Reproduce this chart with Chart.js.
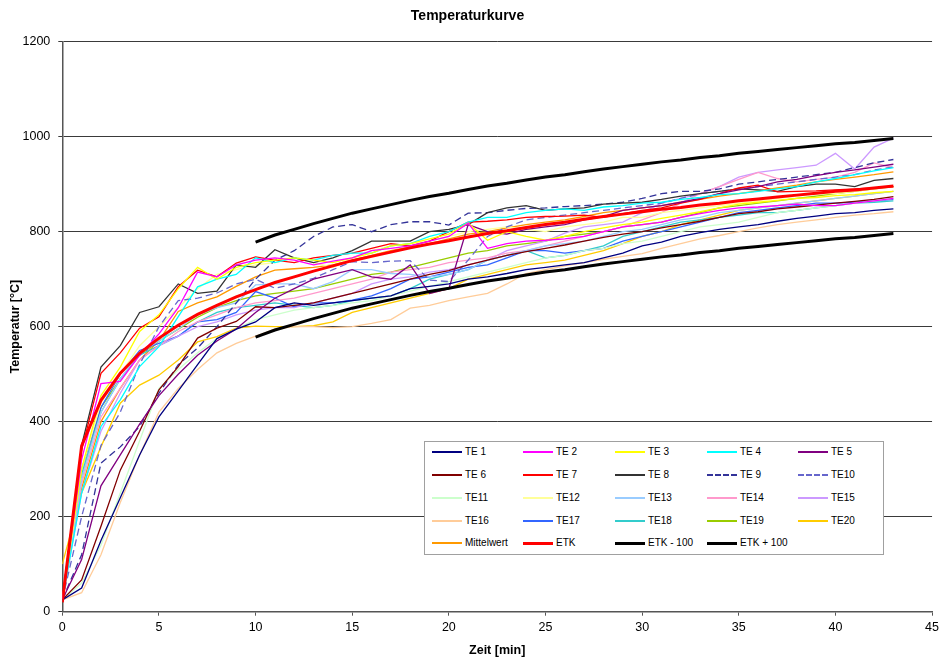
<!DOCTYPE html>
<html>
<head>
<meta charset="utf-8">
<script src="https://cdn.jsdelivr.net/npm/chart.js@4.4.1/dist/chart.umd.min.js"></script>
<style>
  html, body { margin: 0; padding: 0; background: #fff; }
  #wrap { position: relative; width: 943px; height: 660px; }
  #legend { position: absolute; left: 424px; top: 441px; width: 458px; height: 112px;
            border: 1px solid #a0a0a0; background: #fff; font-family: 'Liberation Sans', Arial, sans-serif;
            font-size: 10px; color: #000; }
  .item { position: absolute; height: 12px; white-space: nowrap; }
  .sw { position: absolute; left: 0; top: 6px; width: 30px; height: 0; }
  .lbl { position: absolute; left: 33px; top: 0; line-height: 12px; }
</style>
</head>
<body>
<div id="wrap">
  <canvas id="c" width="943" height="660"></canvas>
  <div id="legend"></div>
</div>
<script>
const minutes = [0,1,2,3,4,5,6,7,8,9,10,11,12,13,14,15,16,17,18,19,20,21,22,23,24,25,26,27,28,29,30,31,32,33,34,35,36,37,38,39,40,41,42,43];
const xTicks = [0,5,10,15,20,25,30,35,40,45];
const yTicks = [0,200,400,600,800,1000,1200];

const TE1  = [25,50,150,240,330,410,465,520,575,595, 610,640,650,645,650,655,660,665,680,685, 690,700,705,712,720,725,730,735,745,755, 770,778,790,798,805,810,815,822,828,833, 838,840,845,848];
const TE2  = [25,320,480,485,540,585,640,715,705,730, 740,745,740,730,738,745,760,765,770,780, 790,818,765,775,780,782,785,790,800,810, 815,820,830,838,845,850,852,855,858,855, 855,860,865,870];
const TE3  = [25,300,455,515,590,625,680,725,700,725, 735,740,745,740,735,745,755,770,775,785, 795,818,782,800,790,782,790,800,808,815, 820,828,835,842,850,858,862,866,870,872, 876,878,882,885];
const TE4  = [25,250,390,446,516,558,621,684,700,710, 745,735,745,740,750,755,755,770,775,790, 800,820,830,830,840,845,848,845,852,855, 860,862,868,872,878,880,885,890,895,905, 912,920,928,935];
const TE5  = [25,110,265,330,395,455,500,540,570,595, 630,660,680,700,710,720,705,700,730,670, 680,815,800,795,805,810,815,825,832,845, 850,855,862,870,880,888,895,905,910,918, 925,930,936,942];
const TE6  = [25,67,180,298,380,467,516,576,597,611, 642,640,645,650,660,670,680,690,700,710, 718,730,740,750,758,765,772,780,788,795, 800,808,815,822,830,838,842,848,852,856, 860,864,868,874];
const TE7  = [25,340,502,545,597,621,684,719,705,734, 747,740,735,745,750,755,765,775,770,780, 800,820,822,825,830,832,833,835,830,838, 845,850,860,868,880,892,898,884,885,886, 888,890,892,895];
const TE8  = [25,350,515,560,630,642,690,670,675,730, 725,762,745,735,745,760,780,780,780,800, 805,815,840,850,855,845,848,850,858,860, 862,868,875,880,885,890,888,885,895,900, 900,895,908,912];
const TE9  = [25,120,313,347,390,460,520,555,600,650, 700,740,760,790,810,815,800,815,821,821, 814,839,840,845,849,850,853,855,858,862, 870,880,885,885,890,900,905,910,915,920, 925,935,945,952];
const TE10 = [25,200,350,420,520,600,655,660,671,690, 700,681,690,702,720,737,735,738,739,698, 695,740,790,810,825,830,835,840,845,850, 855,860,870,880,885,890,895,900,905,910, 915,920,930,936];
const TE11 = [25,60,140,250,360,470,510,545,575,595, 615,625,635,640,645,650,655,665,675,685, 695,705,715,725,735,745,750,760,765,775, 780,790,800,810,815,820,830,840,845,850, 855,860,865,870];
const TE12 = [25,300,440,500,560,600,640,680,710,720, 730,735,745,735,725,745,760,770,775,780, 790,800,805,810,805,800,810,815,820,830, 830,840,845,850,855,860,865,870,875,880, 880,885,890,895];
const TE13 = [25,280,420,490,545,570,595,625,640,650, 688,690,690,680,695,720,720,712,710,705, 710,720,740,750,760,770,775,780,790,800, 805,815,825,830,840,845,850,855,860,865, 870,875,880,885];
const TE14 = [25,270,410,470,530,560,590,610,625,640, 650,655,660,670,680,690,700,715,720,725, 735,740,745,755,760,770,780,790,800,810, 825,840,860,880,895,910,925,912,905,910, 915,925,945,935];
const TE15 = [25,250,380,460,530,560,580,600,610,625, 635,640,640,650,660,670,690,700,705,715, 720,730,740,760,770,780,797,810,815,820, 840,860,870,880,895,915,925,930,935,940, 965,932,978,997];
const TE16 = [25,40,120,230,330,420,470,510,545,565, 580,595,600,600,598,600,607,615,639,645, 655,663,670,690,712,720,728,735,742,748, 754,765,775,785,792,800,808,815,820,825, 830,835,838,842];
const TE17 = [25,300,430,500,550,565,580,610,615,630, 674,660,642,650,650,656,665,680,700,705, 715,725,730,745,760,760,755,760,765,780, 790,800,810,820,830,840,845,850,855,860, 860,862,865,868];
const TE18 = [25,290,420,490,540,560,580,610,630,640, 645,650,645,640,645,655,660,665,680,700, 710,720,740,750,760,745,750,760,770,790, 800,810,820,825,830,835,840,840,845,850, 855,860,862,865];
const TE19 = [25,280,430,490,540,570,595,620,640,655, 665,670,675,680,690,700,710,715,725,735, 745,755,760,770,775,780,790,795,800,810, 815,820,830,840,850,855,860,865,870,875, 880,885,890,895];
const TE20 = [100,250,347,439,477,498,530,568,579,597, 601,600,600,602,610,630,640,650,660,670, 680,700,710,720,730,735,740,750,760,775, 790,800,815,825,835,845,850,855,860,865, 870,875,880,885];
const Mittelwert = [30,260,400,470,530,570,632,650,663,685, 705,719,722,725,730,740,750,760,768,775, 785,795,800,808,815,820,825,832,840,845, 850,855,862,868,875,880,886,892,898,905, 910,915,920,926];
const ETK = [20,349,445,502,544,576,603,626,645,663, 678,693,705,717,728,739,748,757,766,774, 781,789,796,802,809,815,820,826,832,837, 842,847,851,856,860,865,869,873,877,881, 885,888,892,896];
const ETKminus100 = [null,null,null,null,null,null,null,null,null,null, 578,593,605,617,628,639,648,657,666,674, 681,689,696,702,709,715,720,726,732,737, 742,747,751,756,760,765,769,773,777,781, 785,788,792,796];
const ETKplus100 = [null,null,null,null,null,null,null,null,null,null, 778,793,805,817,828,839,848,857,866,874, 881,889,896,902,909,915,920,926,932,937, 942,947,951,956,960,965,969,973,977,981, 985,988,992,996];

const seriesDefs = [
  ['TE 1', TE1, '#000080', 1.3, []],
  ['TE 2', TE2, '#ff00ff', 1.3, []],
  ['TE 3', TE3, '#ffff00', 1.3, []],
  ['TE 4', TE4, '#00ffff', 1.3, []],
  ['TE 5', TE5, '#800080', 1.3, []],
  ['TE 6', TE6, '#800000', 1.3, []],
  ['TE 7', TE7, '#ff0000', 1.3, []],
  ['TE 8', TE8, '#333333', 1.3, []],
  ['TE 9', TE9, '#333399', 1.3, [7,4]],
  ['TE10', TE10, '#6666cc', 1.3, [7,4]],
  ['TE11', TE11, '#ccffcc', 1.3, []],
  ['TE12', TE12, '#ffff99', 1.3, []],
  ['TE13', TE13, '#99ccff', 1.3, []],
  ['TE14', TE14, '#ff99cc', 1.3, []],
  ['TE15', TE15, '#cc99ff', 1.3, []],
  ['TE16', TE16, '#ffcc99', 1.3, []],
  ['TE17', TE17, '#3366ff', 1.3, []],
  ['TE18', TE18, '#33cccc', 1.3, []],
  ['TE19', TE19, '#99cc00', 1.3, []],
  ['TE20', TE20, '#ffcc00', 1.3, []],
  ['Mittelwert', Mittelwert, '#ff9900', 1.3, []],
  ['ETK', ETK, '#ff0000', 3, []],
  ['ETK - 100', ETKminus100, '#000000', 3, []],
  ['ETK + 100', ETKplus100, '#000000', 3, []]
];

const datasets = seriesDefs.map((s, i) => ({
  label: s[0],
  data: minutes.map((m, k) => ({x: m, y: s[1][k]})),
  borderColor: s[2],
  backgroundColor: s[2],
  borderWidth: s[3],
  borderDash: s[4],
  pointRadius: 0,
  pointHoverRadius: 0,
  tension: 0,
  fill: false,
  spanGaps: false,
  order: i >= 21 ? 0 : 1
}));

const FONT = "'Liberation Sans', Arial, sans-serif";

new Chart(document.getElementById('c'), {
  type: 'line',
  data: { datasets },
  options: {
    responsive: false,
    animation: false,
    devicePixelRatio: 1,
    layout: { padding: { left: 0, right: 8, top: 0, bottom: 0 } },
    plugins: {
      legend: { display: false },
      tooltip: { enabled: false },
      title: {
        display: true,
        text: 'Temperaturkurve',
        color: '#000',
        font: { family: FONT, size: 14, weight: 'bold' },
        padding: { top: 7.6, bottom: 17.3 }
      }
    },
    scales: {
      x: {
        type: 'linear',
        min: 0, max: 45,
        afterFit: (s) => { s.height = 48.3; },
        afterBuildTicks: (s) => { s.ticks = xTicks.map(v => ({value: v})); },
        ticks: { color: '#000', font: { family: FONT, size: 12.5 }, padding: 4, maxRotation: 0,
                 callback: (v) => String(v) },
        grid: { drawOnChartArea: false, drawTicks: true, tickLength: 4, color: '#555', lineWidth: 1 },
        border: { display: true, color: '#555', width: 1.5 },
        title: { display: true, text: 'Zeit [min]', color: '#000',
                 font: { family: FONT, size: 12.5, weight: 'bold' }, padding: { top: 0, bottom: 1.5 } }
      },
      y: {
        type: 'linear',
        min: 0, max: 1200,
        afterFit: (s) => { s.width = 62.3; },
        afterBuildTicks: (s) => { s.ticks = yTicks.map(v => ({value: v})); },
        ticks: { color: '#000', font: { family: FONT, size: 12.5 }, padding: 8,
                 callback: (v) => String(v) },
        grid: { drawOnChartArea: true, drawTicks: true, tickLength: 4, color: '#3a3a3a', lineWidth: 1 },
        border: { display: true, color: '#555', width: 1.5 },
        title: { display: true, text: 'Temperatur [°C]', color: '#000',
                 font: { family: FONT, size: 12.5, weight: 'bold' }, padding: { top: 8.5, bottom: 0 } }
      }
    }
  }
});

// HTML legend built from the datasets
const legend = document.getElementById('legend');
const colX = [432, 523, 615, 707, 798];
seriesDefs.forEach((s, i) => {
  const col = i % 5, row = Math.floor(i / 5);
  const item = document.createElement('div');
  item.className = 'item';
  item.style.left = (colX[col] - 425) + 'px';
  item.style.top = (452.3 + row * 22.75 - 6 - 442) + 'px';
  const sw = document.createElement('div');
  sw.className = 'sw';
  const w = s[3] >= 3 ? 3 : 2;
  sw.style.borderTop = w + 'px ' + (s[4].length ? 'dashed ' : 'solid ') + s[2];
  sw.style.top = (6 - w / 2) + 'px';
  const lb = document.createElement('div');
  lb.className = 'lbl';
  lb.textContent = s[0];
  item.appendChild(sw);
  item.appendChild(lb);
  legend.appendChild(item);
});
</script>
</body>
</html>
